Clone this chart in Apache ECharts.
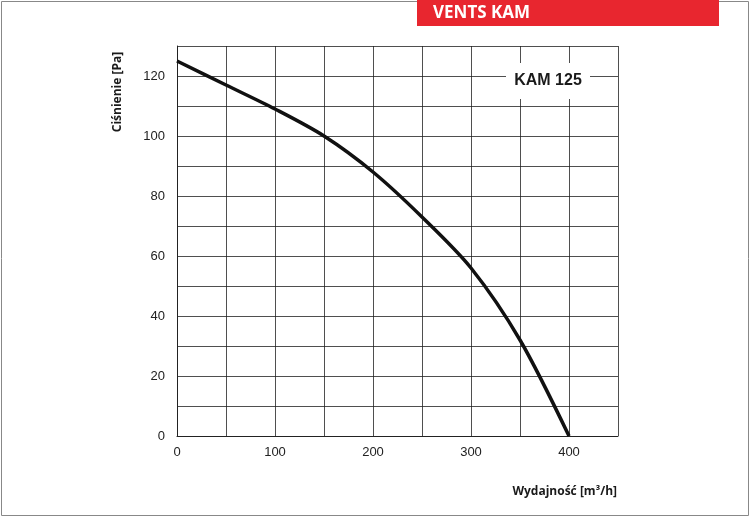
<!DOCTYPE html>
<html><head><meta charset="utf-8">
<script src="https://cdn.jsdelivr.net/npm/echarts@6/dist/echarts.min.js"></script>
<style>html,body{margin:0;padding:0;background:#fff}#c{width:750px;height:517px}</style>
</head><body><div id="c"></div>
<script>
const flow = [0, 50, 100, 150, 200, 250, 300, 350, 400];
const pressure = [125, 117, 109, 100, 88, 73, 56, 32, 0];
const title = 'VENTS KAM';
const model = 'KAM 125';
const xName = 'Wydajność [m³/h]';
const yName = 'Ciśnienie [Pa]';

const chart = echarts.init(document.getElementById('c'));
chart.setOption({
  animation: false,
  grid: {left: 177, right: 132, top: 46, bottom: 81},
  graphic: [
    {type: 'rect', shape: {x: 1.5, y: 1.5, width: 747, height: 514}, style: {fill: 'none', stroke: '#888', lineWidth: 1}},
    {type: 'rect', shape: {x: 417, y: 0, width: 302, height: 26}, style: {fill: '#e8262f'}},
    {type: 'text', x: 433, y: 13, style: {text: title, fill: '#fff', font: 'bold 17px "Open Sans", sans-serif', verticalAlign: 'middle'}},
    {type: 'rect', shape: {x: 506, y: 63, width: 84, height: 36}, style: {fill: '#fff'}, z: 10},
    {type: 'text', x: 548, y: 81, z: 11, style: {text: model, fill: '#1a1a1a', font: 'bold 16px "Liberation Sans", Arial, sans-serif', align: 'center', verticalAlign: 'middle'}},
    {type: 'text', x: 617, y: 492, style: {text: xName, fill: '#1a1a1a', font: 'bold 12px "Open Sans", sans-serif', align: 'right', verticalAlign: 'middle'}},
    {type: 'text', x: 118, y: 92, rotation: Math.PI/2, style: {text: yName, fill: '#1a1a1a', font: 'bold 12px "Open Sans", sans-serif', align: 'center', verticalAlign: 'middle'}}
  ],
  xAxis: {type: 'value', min: 0, max: 450, interval: 50,
    axisLine: {lineStyle: {color: '#222', width: 1}}, axisTick: {show: false},
    axisLabel: {color: '#222', fontSize: 13, fontFamily: 'Liberation Sans', margin: 10,
      formatter: v => v % 100 === 0 ? String(v) : ''},
    splitLine: {show: true, lineStyle: {color: '#222', width: 0.8}}},
  yAxis: {type: 'value', min: 0, max: 130, interval: 10,
    axisLine: {show: true, lineStyle: {color: '#222', width: 1}}, axisTick: {show: false},
    axisLabel: {color: '#222', fontSize: 13, fontFamily: 'Liberation Sans', margin: 12,
      formatter: v => v % 20 === 0 ? String(v) : ''},
    splitLine: {show: true, lineStyle: {color: '#222', width: 0.8}}},
  series: [{type: 'line', smooth: 0.3, symbol: 'none', data: flow.map((f, i) => [f, pressure[i]]),
    lineStyle: {color: '#111', width: 3.5}, z: 5}]
});
</script></body></html>
